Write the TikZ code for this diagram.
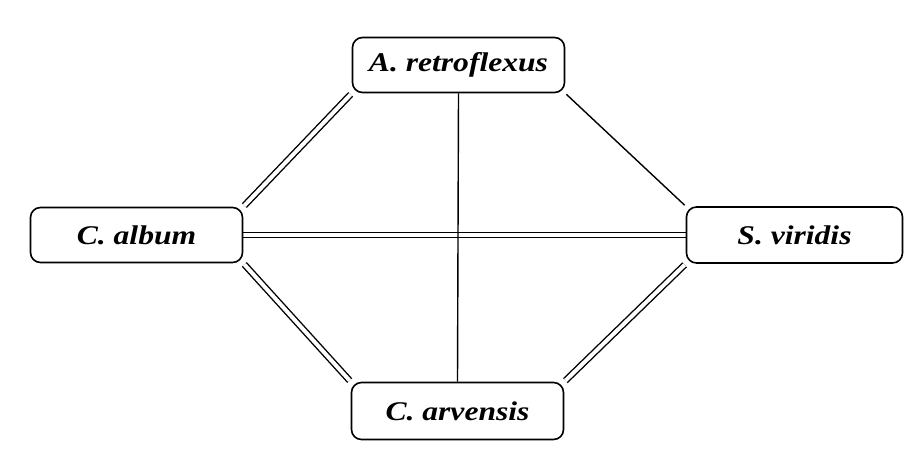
\documentclass[tikz,border=0pt]{standalone}
\usepackage{fontspec}
\setmainfont{Liberation Serif}
\newfontfamily\lblfont[FakeStretch=1.17]{Liberation Serif}
\usetikzlibrary{backgrounds}
\begin{document}
\begin{tikzpicture}[x=1pt,y=-1pt,
  species/.style={draw, line width=1.6pt, rounded corners=10pt, minimum width=212pt, minimum height=55pt, fill=white, inner sep=0pt,
    font=\lblfont\fontsize{27}{30}\selectfont\bfseries\itshape},
  single/.style={line width=1.4pt},
  dbl/.style={double, line width=1.4pt, double distance=4pt}]
\useasboundingbox (0,0) rectangle (921,461);
\node[species] (ar) at (458.5,65) {A. retroflexus};
\node[species] (ca) at (136.5,235) {C. album};
\node[species, minimum width=216pt, minimum height=56pt] (sv) at (794.5,235) {S. viridis};
\node[species, minimum height=57pt] (cv) at (457.5,411) {C. arvensis};
\begin{scope}[on background layer]
\draw[dbl, shorten <=1.5pt, shorten >=1.5pt] (ar.south west) -- (ca.north east);
\draw[single, shorten <=1.5pt, shorten >=1.5pt] (ar.south east) -- (sv.north west);
\draw[dbl] (ca.east) -- (sv.west);
\draw[single] (ar.south) -- (cv.north);
\draw[dbl, shorten <=1.5pt, shorten >=1.5pt] (ca.south east) -- (cv.north west);
\draw[dbl, shorten <=1.5pt, shorten >=1.5pt] (cv.north east) -- (sv.south west);
\end{scope}
\end{tikzpicture}
\end{document}
